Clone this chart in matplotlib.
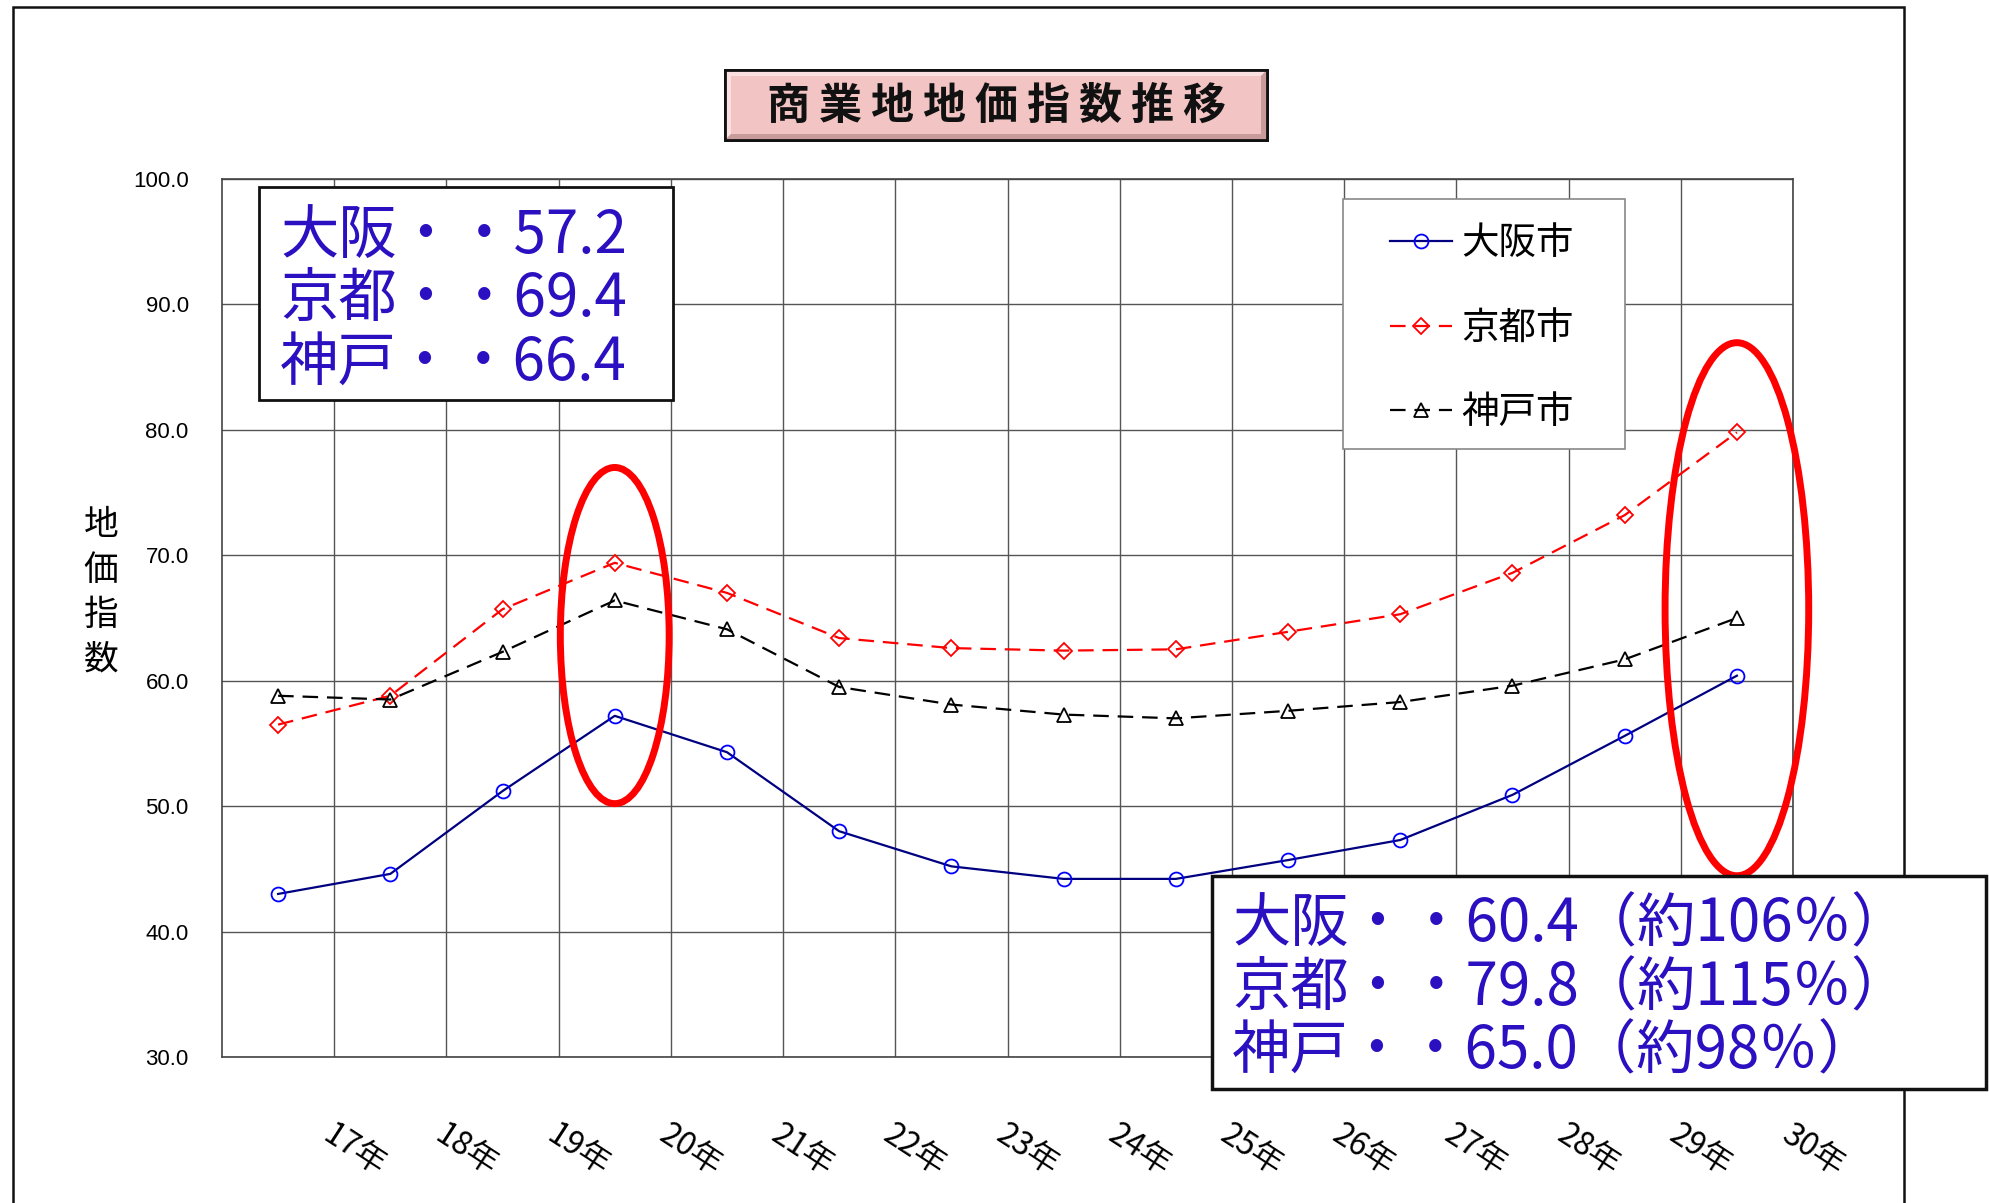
import numpy as np
import matplotlib
matplotlib.use('Agg')
import matplotlib.pyplot as plt
from matplotlib.patches import Rectangle, Ellipse, Polygon

plt.rcParams['font.family'] = ['Noto Sans CJK JP', 'DejaVu Sans']

# 商業地の地価指数（各年）
years = ['17年', '18年', '19年', '20年', '21年', '22年', '23年',
         '24年', '25年', '26年', '27年', '28年', '29年', '30年']
osaka = [43.0, 44.6, 51.2, 57.2, 54.3, 48.0, 45.2, 44.2, 44.2, 45.7, 47.3, 50.9, 55.6, 60.4]
kyoto = [56.5, 58.8, 65.7, 69.4, 67.0, 63.4, 62.6, 62.4, 62.5, 63.9, 65.3, 68.6, 73.2, 79.8]
kobe = [58.8, 58.5, 62.3, 66.4, 64.1, 59.5, 58.1, 57.3, 57.0, 57.6, 58.3, 59.6, 61.7, 65.0]
names = ['大阪', '京都', '神戸']
peak_idx = 3

W, H = 1990, 1203
fig = plt.figure(figsize=(W / 100, H / 100), dpi=100)


def fx(px):
    return px / W


def fy(py):
    return 1 - py / H


ax = fig.add_axes([fx(222), fy(1057), fx(1793) - fx(222), fy(179) - fy(1057)])
x = np.arange(len(years))

l1, = ax.plot(x, osaka, color='#000080', lw=1.6, marker='o', ms=10,
              mfc='none', mec='#0000ff', mew=1.3, label='大阪市', zorder=3)
l2, = ax.plot(x, kyoto, color='#ff0000', lw=1.6, ls=(0, (7, 4)), marker='D', ms=8,
              mfc='none', mec='#ff0000', mew=1.3, label='京都市', zorder=3)
l3, = ax.plot(x, kobe, color='#000000', lw=1.6, ls=(0, (7, 4)), marker='^', ms=10,
              mfc='none', mec='#000000', mew=1.3, label='神戸市', zorder=3)

ax.set_xlim(-0.5, len(years) - 0.5)
ax.set_ylim(30, 100)
ax.set_yticks(np.arange(30, 101, 10))
ax.set_yticklabels(['%.1f' % v for v in np.arange(30, 101, 10)],
                   family='Liberation Sans', fontsize=16)
ax.set_xticks(x + 0.5)
ax.set_xticklabels(years, rotation=-33, ha='left', va='top',
                   rotation_mode='anchor', fontsize=23)
ax.tick_params(axis='x', length=0, pad=44)
ax.tick_params(axis='y', length=0, pad=24)
ax.grid(True, color='#555555', lw=1.0)
for sp in ax.spines.values():
    sp.set_color('#444444')
    sp.set_linewidth(1.2)

fig.text(fx(101), fy(593), '地\n価\n指\n数', ha='center', va='center',
         fontsize=25, linespacing=1.36)

# 凡例（枠は別に描く）
fig.add_artist(Rectangle((fx(1343), fy(449)), fx(1625) - fx(1343), fy(199) - fy(449),
                         transform=fig.transFigure, fc='white', ec='#888888', lw=1.2,
                         zorder=4))
leg = fig.legend(handles=[l1, l2, l3], loc='upper left',
                 bbox_to_anchor=(fx(1390), fy(224)), bbox_transform=fig.transFigure,
                 fontsize=27, frameon=False, handlelength=1.65, handletextpad=0.25,
                 labelspacing=1.22, borderpad=0, borderaxespad=0)
leg.set_zorder(5)

# 強調の楕円
ax.add_patch(Ellipse((3, 63.6), 0.97, 26.8, fill=False, ec='#ff0000', lw=5,
                     clip_on=False, zorder=5))
ax.add_patch(Ellipse((13, 65.7), 1.28, 42.5, fill=False, ec='#ff0000', lw=5,
                     clip_on=False, zorder=5))

# 外枠
fig.add_artist(Rectangle((fx(13), -0.01), fx(1904) - fx(13), fy(7) + 0.01,
                         transform=fig.transFigure, fill=False, ec='#111111', lw=1.8))

# タイトル（立体風の枠）
tx0, tx1, ty0, ty1 = 725, 1267, 70, 140
b = 6
fig.add_artist(Rectangle((fx(tx0), fy(ty1)), fx(tx1) - fx(tx0), fy(ty0) - fy(ty1),
                         transform=fig.transFigure, fc='#f2c4c4', ec='#111111', lw=2.0))
fig.add_artist(Polygon([(fx(tx0), fy(ty0)), (fx(tx1), fy(ty0)), (fx(tx1 - b), fy(ty0 + b)),
                        (fx(tx0 + b), fy(ty0 + b)), (fx(tx0 + b), fy(ty1 - b)), (fx(tx0), fy(ty1))],
                       transform=fig.transFigure, fc='#fae0e0', ec='none'))
fig.add_artist(Polygon([(fx(tx1), fy(ty1)), (fx(tx0), fy(ty1)), (fx(tx0 + b), fy(ty1 - b)),
                        (fx(tx1 - b), fy(ty1 - b)), (fx(tx1 - b), fy(ty0 + b)), (fx(tx1), fy(ty0))],
                       transform=fig.transFigure, fc='#c99c9c', ec='none'))
fig.add_artist(Rectangle((fx(tx0), fy(ty1)), fx(tx1) - fx(tx0), fy(ty0) - fy(ty1),
                         transform=fig.transFigure, fill=False, ec='#111111', lw=2.0))
title = '商業地地価指数推移'
cx = (tx0 + tx1) / 2
for i, ch in enumerate(title):
    fig.text(fx(cx + (i - 4) * 52), fy(106), ch, ha='center', va='center',
             fontsize=31, fontweight='bold', color='#111111')

# 数値の注記
series = [osaka, kyoto, kobe]
blue = '#2a10c0'
fig.add_artist(Rectangle((fx(259), fy(400)), fx(673) - fx(259), fy(187) - fy(400),
                         transform=fig.transFigure, fc='white', ec='#111111', lw=2.0, zorder=7))
for k, (nm, s) in enumerate(zip(names, series)):
    fig.text(fx(280), fy(236 + k * 63.5), '%s・・%.1f' % (nm, s[peak_idx]),
             ha='left', va='center', fontsize=42, color=blue, zorder=8)

fig.add_artist(Rectangle((fx(1212), fy(1089)), fx(1986) - fx(1212), fy(876) - fy(1089),
                         transform=fig.transFigure, fc='white', ec='#111111', lw=2.5, zorder=7))
for k, (nm, s) in enumerate(zip(names, series)):
    pct = round(s[-1] / s[peak_idx] * 100)
    fig.text(fx(1232), fy(925 + k * 63.5), '%s・・%.1f（約%d％）' % (nm, s[-1], pct),
             ha='left', va='center', fontsize=42, color=blue, zorder=8)

fig.savefig('out.png', dpi=100)
